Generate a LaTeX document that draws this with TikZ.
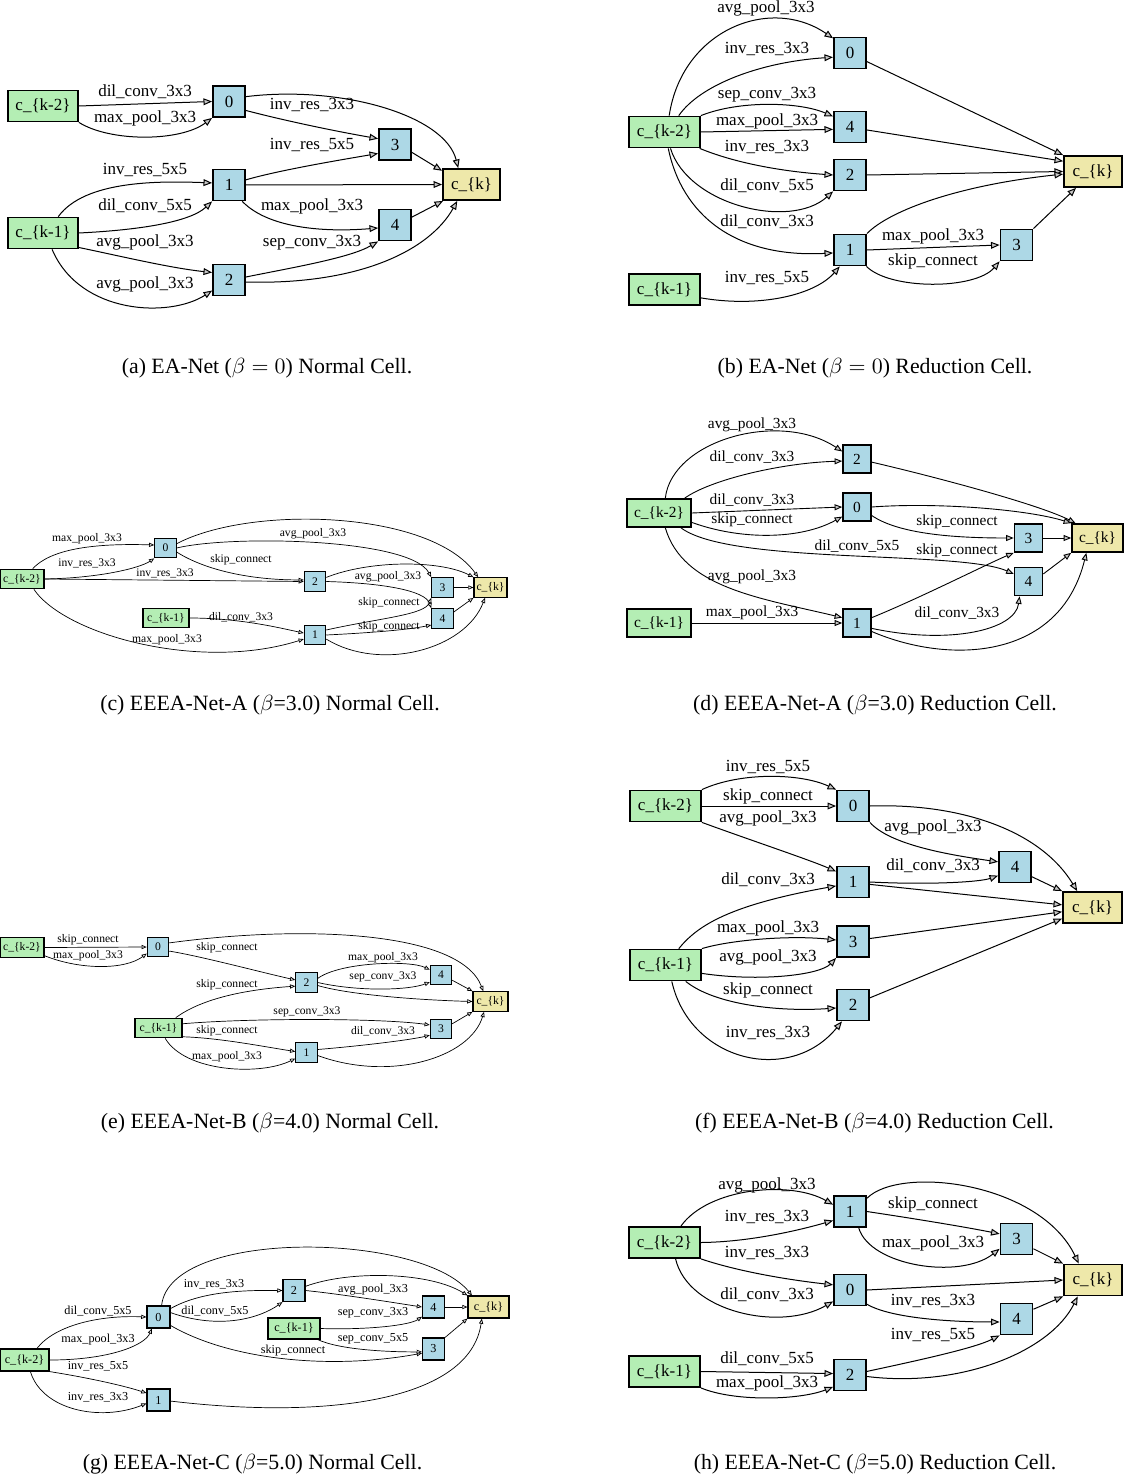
\documentclass[tikz,border=0pt]{standalone}
\usepackage{fontspec}
\setmainfont{Liberation Serif}
\usetikzlibrary{arrows.meta}
\definecolor{ingreen}{RGB}{180,238,180}
\definecolor{midblue}{RGB}{173,216,230}
\definecolor{outyel}{RGB}{238,232,170}
\tikzset{
 cbase/.style={draw=black, rectangle, inner sep=0pt, align=center},
 cinn/.style={cbase, fill=ingreen},
 cmid/.style={cbase, fill=midblue},
 cout/.style={cbase, fill=outyel},
 szL/.style={font=\fontsize{8.5}{9}\selectfont, minimum height=15.5pt, minimum width=16pt, line width=0.9pt},
 szM/.style={font=\fontsize{7.7}{8}\selectfont, minimum height=14pt, minimum width=14pt, line width=0.8pt},
 szS/.style={font=\fontsize{5.8}{6}\selectfont, minimum height=9.8pt, minimum width=10.7pt, line width=0.55pt},
 lbL/.style={font=\fontsize{8.5}{9}\selectfont, inner sep=0pt},
 lbM/.style={font=\fontsize{7.7}{8}\selectfont, inner sep=0pt},
 lbS/.style={font=\fontsize{5.8}{6}\selectfont, inner sep=0pt},
 lbG/.style={font=\fontsize{6.1}{7}\selectfont, inner sep=0pt},
 eL/.style={line width=0.5pt, -{Triangle[length=4.3pt,width=3.4pt,fill=gray!45]}},
 eM/.style={line width=0.45pt, -{Triangle[length=3.8pt,width=3pt,fill=gray!45]}},
 eS/.style={line width=0.35pt, -{Triangle[length=2.6pt,width=2.1pt,fill=gray!20]}},
 captxt/.style={font=\fontsize{10.9}{13}\selectfont, inner sep=0pt},
}
\begin{document}
\begin{tikzpicture}[x=0.5pt,y=-0.5pt]
\useasboundingbox (0,0) rectangle (1123,1481);
% ================= (a)
\node[cinn,szL,minimum width=35pt] (ack2) at (43,106) {c\_\{k-2\}};
\node[cmid,szL] (a0) at (229,101.5) {0};
\node[cmid,szL] (a3) at (395,144.5) {3};
\node[cmid,szL] (a1) at (229,185) {1};
\node[cout,szL,minimum width=28.5pt] (ack) at (471.5,184.5) {c\_\{k\}};
\node[cinn,szL,minimum width=35pt] (ack1) at (43,233) {c\_\{k-1\}};
\node[cmid,szL] (a4) at (395,225) {4};
\node[cmid,szL] (a2) at (229,280) {2};
\draw[eL] (ack2.east) -- (a0.west);
\draw[eL] (ack2.south east) .. controls (110,142) and (180,142) .. (a0.south west);
\draw[eL] (a0.16) .. controls (340,85) and (445,115) .. (ack.129);
\draw[eL] (a0.-28) .. controls (290,122) and (340,132) .. (a3.161);
\draw[eL] (a1.17) .. controls (280,170) and (340,160) .. (a3.208);
\draw[eL] (a3.-25) -- (ack.155);
\draw[eL] (a1.east) -- (ack.west);
\draw[eL] (a1.-51) .. controls (270,230) and (330,232) .. (a4.190);
\draw[eL] (ack1.47) .. controls (85,180) and (160,181) .. (a1.173);
\draw[eL] (ack1.east) .. controls (140,230) and (190,222) .. (a1.south west);
\draw[eL] (ack1.-22) .. controls (120,256) and (170,268) .. (a2.156);
\draw[eL] (ack1.-61) .. controls (80,315) and (170,318) .. (a2.212);
\draw[eL] (a2.10) .. controls (290,268) and (350,258) .. (a4.south west);
\draw[eL] (a2.-7) .. controls (360,285) and (430,250) .. (ack.-131);
\draw[eL] (a4.25) -- (ack.-150);
\node[lbL] (la1) at (145,92) {dil\_conv\_3x3};
\node[lbL] (la2) at (145,118) {max\_pool\_3x3};
\node[lbL] (la3) at (312,105) {inv\_res\_3x3};
\node[lbL] (la4) at (312,145) {inv\_res\_5x5};
\node[lbL] (la5) at (145,170) {inv\_res\_5x5};
\node[lbL] (la6) at (145,206) {dil\_conv\_5x5};
\node[lbL] (la7) at (312,206) {max\_pool\_3x3};
\node[lbL] (la8) at (145,242) {avg\_pool\_3x3};
\node[lbL] (la9) at (312,243) {sep\_conv\_3x3};
\node[lbL] (la10) at (145,284) {avg\_pool\_3x3};
\node[captxt] (capa) at (267,368) {(a) EA-Net ($\beta = 0$) Normal Cell.};
% ================= (b)
\node[cmid,szL] (b0) at (850,53) {0};
\node[cinn,szL,minimum width=35.5pt] (bck2) at (664.5,132) {c\_\{k-2\}};
\node[cmid,szL] (b4) at (850,127) {4};
\node[cmid,szL] (b2) at (850,175) {2};
\node[cout,szL,minimum width=29pt] (bck) at (1093,171.5) {c\_\{k\}};
\node[cmid,szL] (b1) at (850,250) {1};
\node[cmid,szL] (b3) at (1016.5,245) {3};
\node[cinn,szL,minimum width=35.5pt] (bck1) at (664.5,289.5) {c\_\{k-1\}};
\draw[eL] (bck2.74) .. controls (682,30) and (770,-5) .. (b0.139);
\draw[eL] (bck2.49) .. controls (700,85) and (760,62) .. (b0.194);
\draw[eL] (bck2.north east) .. controls (740,100) and (800,102) .. (b4.148);
\draw[eL] (bck2.east) -- (b4.188);
\draw[eL] (bck2.-25) .. controls (740,165) and (790,172) .. (b2.west);
\draw[eL] (bck2.-70) .. controls (688,205) and (790,230) .. (b2.south west);
\draw[eL] (bck2.-77) .. controls (682,215) and (735,258) .. (b1.190);
\draw[eL] (bck1.-13) .. controls (760,308) and (815,295) .. (b1.-122);
\draw[eL] (b0.-27) -- (bck.north west);
\draw[eL] (b4.-10) -- (bck.161);
\draw[eL] (b2.east) -- (bck.west);
\draw[eL] (b1.north east) .. controls (890,210) and (960,185) .. (bck.185);
\draw[eL] (b1.east) -- (b3.west);
\draw[eL] (b1.-45) .. controls (890,290) and (975,290) .. (b3.south west);
\draw[eL] (b3.north east) -- (bck.-136);
\node[lbL] (lb1) at (766,8) {avg\_pool\_3x3};
\node[lbL] (lb2) at (767,49) {inv\_res\_3x3};
\node[lbL] (lb3) at (767,95) {sep\_conv\_3x3};
\node[lbL] (lb4) at (767,121) {max\_pool\_3x3};
\node[lbL] (lb5) at (767,147) {inv\_res\_3x3};
\node[lbL] (lb6) at (767,186) {dil\_conv\_5x5};
\node[lbL] (lb7) at (767,222) {dil\_conv\_3x3};
\node[lbL] (lb8) at (767,278) {inv\_res\_5x5};
\node[lbL] (lb9) at (933,236) {max\_pool\_3x3};
\node[lbL] (lb10) at (933,261) {skip\_connect};
\node[captxt] (capb) at (875,368) {(b) EA-Net ($\beta = 0$) Reduction Cell.};
% ================= (c)
\node[cinn,szS,minimum width=22pt] (cck2) at (22,579) {c\_\{k-2\}};
\node[cmid,szS] (c0) at (165.5,548) {0};
\node[cinn,szS,minimum width=23pt] (cck1) at (166,618) {c\_\{k-1\}};
\node[cmid,szS] (c2) at (315,581.5) {2};
\node[cmid,szS] (c3) at (442.5,587.5) {3};
\node[cout,szS,minimum width=16.5pt] (cck) at (490.5,587.5) {c\_\{k\}};
\node[cmid,szS] (c4) at (442.5,618.5) {4};
\node[cmid,szS] (c1) at (315,635) {1};
\draw[eS] (cck2.44) .. controls (50,550) and (90,543) .. (c0.165);
\draw[eS] (cck2.east) .. controls (100,578) and (140,568) .. (c0.south west);
\draw[eS] (cck2.east) -- (c2.west);
\draw[eS] (cck2.-41) .. controls (65,635) and (200,672) .. (c1.200);
\draw[eS] (cck1.east) .. controls (240,618) and (280,628) .. (c1.170);
\draw[eS] (c0.21) .. controls (250,505) and (430,510) .. (cck.140);
\draw[eS] (c0.east) .. controls (230,535) and (410,538) .. (c3.north west);
\draw[eS] (c0.-20) .. controls (205,570) and (250,580) .. (c2.172);
\draw[eS] (c2.20) .. controls (370,560) and (440,560) .. (cck.north west);
\draw[eS] (c2.east) .. controls (380,583) and (425,590) .. (c4.north west);
\draw[eS] (c1.24) .. controls (380,618) and (425,615) .. (c3.south west);
\draw[eS] (c1.east) .. controls (367,633) and (407,630) .. (c4.210);
\draw[eS] (c1.-20) .. controls (380,672) and (465,650) .. (cck.-118);
\draw[eS] (c3.east) -- (cck.west);
\draw[eS] (c4.30) -- (cck.south west);
\node[lbS] (lc1) at (87,539) {max\_pool\_3x3};
\node[lbS] (lc2) at (87,563) {inv\_res\_3x3};
\node[lbS] (lc3) at (165,573) {inv\_res\_3x3};
\node[lbS] (lc4) at (167,640) {max\_pool\_3x3};
\node[lbS] (lc5) at (241,617) {dil\_conv\_3x3};
\node[lbS] (lc6) at (241,560) {skip\_connect};
\node[lbS] (lc7) at (313,534) {avg\_pool\_3x3};
\node[lbS] (lc8) at (388,577) {avg\_pool\_3x3};
\node[lbS] (lc9) at (389,603) {skip\_connect};
\node[lbS] (lc10) at (389,627) {skip\_connect};
\node[captxt] (capc) at (270,705) {(c) EEEA-Net-A ($\beta$=3.0) Normal Cell.};
% ================= (d)
\node[cinn,szM,minimum width=32pt] (dck2) at (659,513) {c\_\{k-2\}};
\node[cmid,szM] (d2) at (857,459) {2};
\node[cmid,szM] (d0) at (857,507) {0};
\node[cmid,szM] (d3) at (1028.5,538) {3};
\node[cout,szM,minimum width=25.5pt] (dck) at (1097.5,538) {c\_\{k\}};
\node[cmid,szM] (d4) at (1028.5,581.5) {4};
\node[cinn,szM,minimum width=32pt] (dck1) at (659,623) {c\_\{k-1\}};
\node[cmid,szM] (d1) at (857,623) {1};
\draw[eM] (dck2.67) .. controls (672,440) and (780,410) .. (d2.153);
\draw[eM] (dck2.30) .. controls (710,480) and (780,463) .. (d2.188);
\draw[eM] (dck2.east) -- (d0.west);
\draw[eM] (dck2.-16) .. controls (740,540) and (800,540) .. (d0.213);
\draw[eM] (dck2.-34) .. controls (730,565) and (960,550) .. (d4.153);
\draw[eM] (dck2.-67) .. controls (683,588) and (760,598) .. (d1.160);
\draw[eM] (dck1.east) -- (d1.west);
\draw[eM] (d2.-12) .. controls (940,478) and (1040,505) .. (dck.146);
\draw[eM] (d0.east) .. controls (940,502) and (1030,510) .. (dck.north west);
\draw[eM] (d0.-30) .. controls (900,535) and (960,538) .. (d3.west);
\draw[eM] (d3.east) -- (dck.west);
\draw[eM] (d1.20) .. controls (920,598) and (985,565) .. (d3.south west);
\draw[eM] (d1.-20) .. controls (950,645) and (1015,630) .. (d4.-121);
\draw[eM] (d1.-30) .. controls (950,665) and (1060,660) .. (dck.-127);
\draw[eM] (d4.27) -- (dck.south west);
\node[lbM] (ld1) at (752,425) {avg\_pool\_3x3};
\node[lbM] (ld2) at (752,457) {dil\_conv\_3x3};
\node[lbM] (ld3) at (752,500) {dil\_conv\_3x3};
\node[lbM] (ld4) at (752,520) {skip\_connect};
\node[lbM] (ld5) at (857,546) {dil\_conv\_5x5};
\node[lbM] (ld6) at (752,577) {avg\_pool\_3x3};
\node[lbM] (ld7) at (752,613) {max\_pool\_3x3};
\node[lbM] (ld8) at (957,522) {skip\_connect};
\node[lbM] (ld9) at (957,551) {skip\_connect};
\node[lbM] (ld10) at (957,613) {dil\_conv\_3x3};
\node[captxt] (capd) at (875,705) {(d) EEEA-Net-A ($\beta$=3.0) Reduction Cell.};
% ================= (e)
\node[cinn,szS,minimum width=22pt] (eck2) at (22,947.5) {c\_\{k-2\}};
\node[cmid,szS] (e0) at (158,947) {0};
\node[cinn,szS,minimum width=23.5pt] (eck1) at (158.5,1028) {c\_\{k-1\}};
\node[cmid,szS] (e2) at (306.5,982.5) {2};
\node[cmid,szS] (e4) at (441,975) {4};
\node[cout,szS,minimum width=17.5pt] (eck) at (490.5,1001.5) {c\_\{k\}};
\node[cmid,szS] (e3) at (441,1029) {3};
\node[cmid,szS] (e1) at (306.5,1052.5) {1};
\draw[eS] (eck2.east) -- (e0.west);
\draw[eS] (eck2.-20) .. controls (80,970) and (125,970) .. (e0.210);
\draw[eS] (e0.20) .. controls (300,925) and (460,930) .. (eck.125);
\draw[eS] (e0.-20) .. controls (200,956) and (260,972) .. (e2.167);
\draw[eS] (eck1.31) .. controls (200,1000) and (240,990) .. (e2.198);
\draw[eS] (eck1.10) .. controls (250,1018) and (380,1018) .. (e3.160);
\draw[eS] (eck1.-20) .. controls (220,1038) and (260,1046) .. (e1.175);
\draw[eS] (eck1.-57) .. controls (185,1072) and (260,1076) .. (e1.208);
\draw[eS] (e2.20) .. controls (340,962) and (410,960) .. (e4.155);
\draw[eS] (e2.east) .. controls (360,992) and (410,990) .. (e4.212);
\draw[eS] (e2.-15) .. controls (350,995) and (420,1000) .. (eck.west);
\draw[eS] (e1.15) .. controls (360,1046) and (410,1040) .. (e3.209);
\draw[eS] (e1.-15) .. controls (390,1082) and (470,1058) .. (eck.-122);
\draw[eS] (e3.25) -- (eck.south west);
\draw[eS] (e4.-25) -- (eck.north west);
\node[lbS] (le1) at (88,940) {skip\_connect};
\node[lbS] (le2) at (88,956) {max\_pool\_3x3};
\node[lbS] (le3) at (227,948) {skip\_connect};
\node[lbS] (le4) at (227,985) {skip\_connect};
\node[lbS] (le5) at (227,1031) {skip\_connect};
\node[lbS] (le6) at (227,1057) {max\_pool\_3x3};
\node[lbS] (le7) at (383,958) {max\_pool\_3x3};
\node[lbS] (le8) at (383,977) {sep\_conv\_3x3};
\node[lbS] (le9) at (307,1012) {sep\_conv\_3x3};
\node[lbS] (le10) at (383,1031) {dil\_conv\_3x3};
\node[captxt] (cape) at (270,1123) {(e) EEEA-Net-B ($\beta$=4.0) Normal Cell.};
% ================= (f)
\node[cinn,szL,minimum width=35.5pt] (fck2) at (665.5,806) {c\_\{k-2\}};
\node[cmid,szL] (f0) at (853,806) {0};
\node[cmid,szL] (f4) at (1015,867) {4};
\node[cmid,szL] (f1) at (853,882) {1};
\node[cout,szL,minimum width=29.5pt] (fck) at (1092.5,907.5) {c\_\{k\}};
\node[cmid,szL] (f3) at (853,941.5) {3};
\node[cinn,szL,minimum width=35.5pt] (fck1) at (665.5,965) {c\_\{k-1\}};
\node[cmid,szL] (f2) at (853,1005) {2};
\draw[eL] (fck2.north east) .. controls (740,772) and (800,773) .. (f0.north west);
\draw[eL] (fck2.east) -- (f0.west);
\draw[eL] (fck2.south east) .. controls (750,840) and (810,860) .. (f1.148);
\draw[eL] (fck1.51) .. controls (698,925) and (730,905) .. (f1.193);
\draw[eL] (fck1.north east) .. controls (730,940) and (790,935) .. (f3.175);
\draw[eL] (fck1.-13) .. controls (760,982) and (820,975) .. (f3.south west);
\draw[eL] (fck1.-39) .. controls (715,1005) and (780,1012) .. (f2.190);
\draw[eL] (fck1.-69) .. controls (690,1062) and (790,1085) .. (f2.-124);
\draw[eL] (f0.east) .. controls (960,803) and (1040,830) .. (fck.133);
\draw[eL] (f0.south east) .. controls (890,845) and (950,855) .. (f4.163);
\draw[eL] (f1.east) .. controls (930,885) and (980,882) .. (f4.207);
\draw[eL] (f1.-8) -- (fck.175);
\draw[eL] (f4.-30) -- (fck.north west);
\draw[eL] (f3.10) -- (fck.188);
\draw[eL] (f2.23) -- (fck.200);
\node[lbL] (lf1) at (768,767) {inv\_res\_5x5};
\node[lbL] (lf2) at (768,796) {skip\_connect};
\node[lbL] (lf3) at (768,818) {avg\_pool\_3x3};
\node[lbL] (lf4) at (768,880) {dil\_conv\_3x3};
\node[lbL] (lf5) at (768,928) {max\_pool\_3x3};
\node[lbL] (lf6) at (768,957) {avg\_pool\_3x3};
\node[lbL] (lf7) at (768,990) {skip\_connect};
\node[lbL] (lf8) at (768,1033) {inv\_res\_3x3};
\node[lbL] (lf9) at (933,827) {avg\_pool\_3x3};
\node[lbL] (lf10) at (933,866) {dil\_conv\_3x3};
\node[captxt] (capf) at (874.5,1123) {(f) EEEA-Net-B ($\beta$=4.0) Reduction Cell.};
% ================= (g)
\node[cmid,szS,minimum height=11pt,minimum width=11.5pt,font=\fontsize{6.1}{7}\selectfont] (g0) at (158.5,1317) {0};
\node[cinn,szS,minimum height=11pt,minimum width=24.5pt,font=\fontsize{6.1}{7}\selectfont] (gck2) at (24.5,1360) {c\_\{k-2\}};
\node[cmid,szS,minimum height=11pt,minimum width=11.5pt,font=\fontsize{6.1}{7}\selectfont] (g1) at (158.5,1400) {1};
\node[cmid,szS,minimum height=11pt,minimum width=11pt,font=\fontsize{6.1}{7}\selectfont] (g2) at (294,1290.5) {2};
\node[cmid,szS,minimum height=11pt,minimum width=11pt,font=\fontsize{6.1}{7}\selectfont] (g4) at (433.5,1307) {4};
\node[cout,szS,minimum height=11pt,minimum width=20.5pt,font=\fontsize{6.1}{7}\selectfont] (gck) at (488.5,1307) {c\_\{k\}};
\node[cinn,szS,minimum height=10.5pt,minimum width=26pt,font=\fontsize{6.1}{7}\selectfont] (gck1) at (294,1328.5) {c\_\{k-1\}};
\node[cmid,szS,minimum height=11pt,minimum width=11pt,font=\fontsize{6.1}{7}\selectfont] (g3) at (433.5,1349) {3};
\draw[eS] (gck2.43) .. controls (55,1325) and (100,1315) .. (g0.west);
\draw[eS] (gck2.east) .. controls (110,1360) and (145,1345) .. (g0.-120);
\draw[eS] (gck2.south east) .. controls (90,1378) and (125,1386) .. (g1.150);
\draw[eS] (gck2.-63) .. controls (42,1410) and (100,1422) .. (g1.196);
\draw[eS] (g0.75) .. controls (170,1228) and (420,1232) .. (gck.145);
\draw[eS] (g0.35) .. controls (200,1292) and (240,1290) .. (g2.west);
\draw[eS] (g0.20) .. controls (220,1330) and (260,1318) .. (g2.south west);
\draw[eS] (g0.-35) .. controls (230,1360) and (330,1370) .. (g3.200);
\draw[eS] (g2.20) .. controls (350,1270) and (430,1272) .. (gck.north west);
\draw[eS] (g2.east) .. controls (340,1294) and (390,1302) .. (g4.west);
\draw[eS] (gck1.east) .. controls (370,1330) and (410,1325) .. (g4.220);
\draw[eS] (gck1.-25) .. controls (340,1350) and (390,1352) .. (g3.194);
\draw[eS] (g4.east) -- (gck.west);
\draw[eS] (g3.north east) -- (gck.south west);
\draw[eS] (g1.-5) .. controls (330,1420) and (470,1400) .. (gck.-120);
\node[lbG] (lg1) at (98,1311) {dil\_conv\_5x5};
\node[lbG] (lg2) at (98,1340) {max\_pool\_3x3};
\node[lbG] (lg3) at (98,1366) {inv\_res\_5x5};
\node[lbG] (lg4) at (98,1397) {inv\_res\_3x3};
\node[lbG] (lg5) at (214,1284) {inv\_res\_3x3};
\node[lbG] (lg6) at (215,1311) {dil\_conv\_5x5};
\node[lbG] (lg7) at (293,1351) {skip\_connect};
\node[lbG] (lg8) at (373,1290) {avg\_pool\_3x3};
\node[lbG] (lg9) at (373,1313) {sep\_conv\_3x3};
\node[lbG] (lg10) at (373,1339) {sep\_conv\_5x5};
\node[captxt] (capg) at (252.5,1464) {(g) EEEA-Net-C ($\beta$=5.0) Normal Cell.};
% ================= (h)
\node[cmid,szL] (h1) at (850,1211.5) {1};
\node[cinn,szL,minimum width=35.5pt] (hck2) at (664.5,1242.5) {c\_\{k-2\}};
\node[cmid,szL] (h3) at (1016.5,1239) {3};
\node[cout,szL,minimum width=29pt] (hck) at (1093,1280) {c\_\{k\}};
\node[cmid,szL] (h0) at (850,1290) {0};
\node[cmid,szL] (h4) at (1016.5,1319) {4};
\node[cinn,szL,minimum width=35.5pt] (hck1) at (664.5,1371.5) {c\_\{k-1\}};
\node[cmid,szL] (h2) at (850,1375) {2};
\draw[eL] (hck2.45) .. controls (708,1188) and (790,1180) .. (h1.158);
\draw[eL] (hck2.east) .. controls (750,1242) and (800,1230) .. (h1.208);
\draw[eL] (hck2.south east) .. controls (740,1272) and (790,1280) .. (h0.163);
\draw[eL] (hck2.-56) .. controls (688,1312) and (780,1332) .. (h0.214);
\draw[eL] (hck1.east) -- (h2.175);
\draw[eL] (hck1.south east) .. controls (735,1402) and (800,1400) .. (h2.215);
\draw[eL] (h1.38) .. controls (900,1165) and (1040,1182) .. (hck.131);
\draw[eL] (h1.east) .. controls (910,1218) and (960,1226) .. (h3.163);
\draw[eL] (h1.-62) .. controls (870,1266) and (960,1280) .. (h3.210);
\draw[eL] (h0.east) -- (hck.west);
\draw[eL] (h0.-40) .. controls (890,1318) and (950,1322) .. (h4.190);
\draw[eL] (h2.12) .. controls (920,1360) and (975,1348) .. (h4.south west);
\draw[eL] (h2.-5) .. controls (960,1388) and (1050,1352) .. (hck.-133);
\draw[eL] (h3.-30) -- (hck.north west);
\draw[eL] (h4.30) -- (hck.south west);
\node[lbL] (lh1) at (767,1185) {avg\_pool\_3x3};
\node[lbL] (lh2) at (767,1217) {inv\_res\_3x3};
\node[lbL] (lh3) at (767,1253) {inv\_res\_3x3};
\node[lbL] (lh4) at (767,1295) {dil\_conv\_3x3};
\node[lbL] (lh5) at (767,1359) {dil\_conv\_5x5};
\node[lbL] (lh6) at (767,1383) {max\_pool\_3x3};
\node[lbL] (lh7) at (933,1204) {skip\_connect};
\node[lbL] (lh8) at (933,1243) {max\_pool\_3x3};
\node[lbL] (lh9) at (933,1301) {inv\_res\_3x3};
\node[lbL] (lh10) at (933,1335) {inv\_res\_5x5};
\node[captxt] (caph) at (875,1464) {(h) EEEA-Net-C ($\beta$=5.0) Reduction Cell.};
\end{tikzpicture}
\end{document}
